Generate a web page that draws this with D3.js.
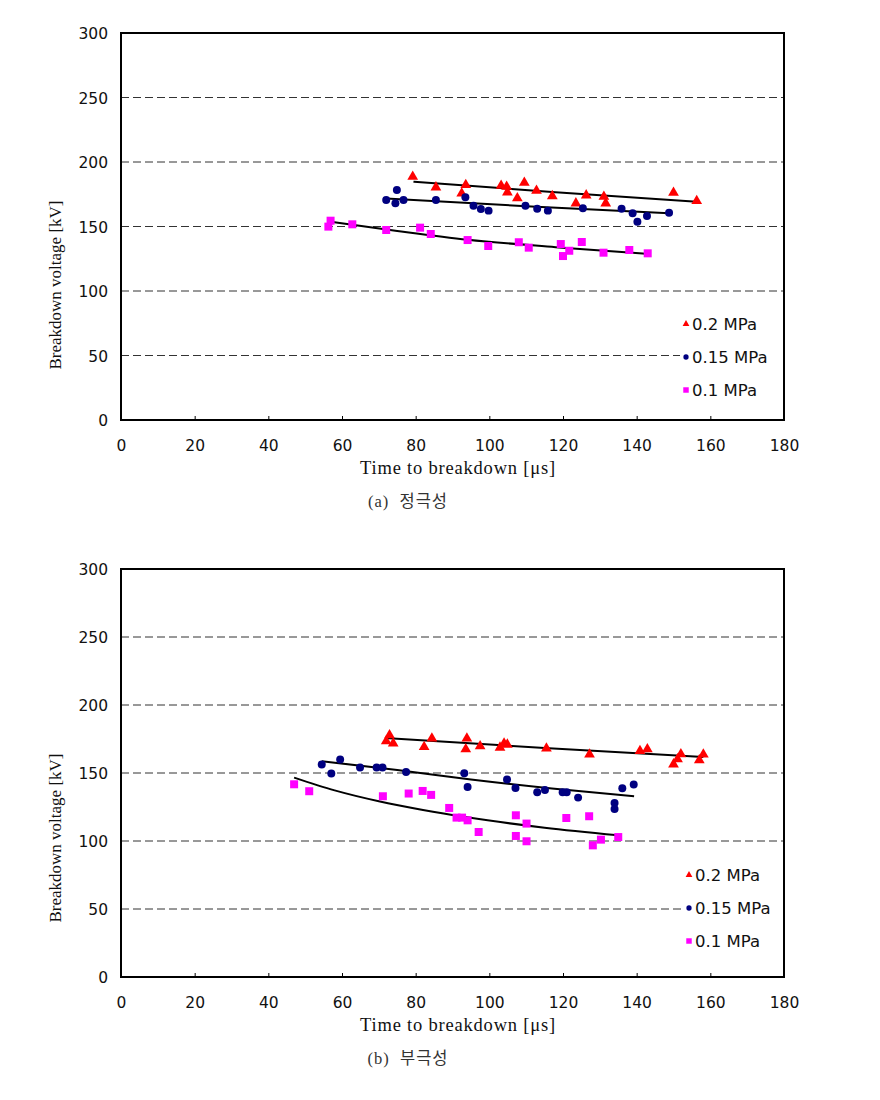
<!DOCTYPE html>
<html><head><meta charset="utf-8">
<script src="https://cdn.jsdelivr.net/npm/d3@7"></script>
<style>body{margin:0;background:#fff}svg{display:block}</style>
</head><body>
<svg id="chart" width="880" height="1100"></svg>
<script>
// ---------- data ----------
const xTicks = [0, 20, 40, 60, 80, 100, 120, 140, 160, 180];
const yTicks = [0, 50, 100, 150, 200, 250, 300];
const gridTicks = [50, 100, 150, 200, 250];
const seriesNames = ["0.2 MPa", "0.15 MPa", "0.1 MPa"];
const xLabel = "Time to breakdown [\u03BCs]";
const yLabel = "Breakdown voltage [kV]";
const captions = ["(a)  정극성", "(b)  부극성"];

// (a) positive polarity
const aRed = [[79.2,188.6],[85.5,180.4],[93.6,182.2],[92.5,175.7],[103.2,181.6],[104.7,180.9],[104.9,176.5],[109.5,184],[107.6,171.9],[112.8,177.8],[117.1,173.6],[123.5,168],[126.3,174.2],[131.1,173.1],[131.6,168],[150,176.2],[156.3,169.8]];
const aBlue = [[74.9,178.3],[72,170.5],[74.5,168],[76.7,170.5],[85.5,170.5],[93.5,172.6],[95.7,166.1],[97.7,163.6],[99.8,162.3],[109.8,166.1],[113,163.8],[115.9,162.3],[125.4,164.1],[135.9,163.8],[138.9,160.2],[140.2,153.7],[142.8,158.1],[148.8,160.7]];
const aMag = [[56.9,154.5],[56.3,149.9],[62.8,151.7],[72,147.3],[81.2,149.1],[84.1,144.2],[94.1,139.5],[99.7,134.9],[108,137.8],[110.7,133.6],[119.4,136.4],[120,127.1],[121.7,131.2],[125.1,138],[131,129.7],[138,131.8],[143,129.2]];
const aRedTrend = [[79.4,184.7],[118,176.6],[156.3,169.2]];
const aBlueTrend = [[72,171.8],[110,165.7],[148.8,160.2]];
const aMagTrend = [[56.9,153.7],[75,146.6],[94.1,139.8],[118,134],[143,128.7]];

// (b) negative polarity
const bRed = [[72.9,177.8],[72,173.4],[73.9,171.7],[84.4,175.4],[82.3,169.2],[93.9,175.4],[93.6,167.5],[97.5,169.7],[102.9,168.7],[104,171.7],[104.9,170.9],[115.5,168],[127.2,163.6],[140.9,166.2],[142.9,167.5],[150,156.4],[151.1,160.1],[152,163.8],[157,159.4],[158.1,163.6]];
const bBlue = [[54.5,156.2],[57.1,149.6],[59.5,159.9],[64.9,154],[69.4,154],[71,154],[77.4,150.8],[93.2,149.8],[94.1,139.7],[104.8,145.2],[107.1,139],[113,135.8],[115.1,137.5],[119.9,135.8],[121,135.8],[124.1,131.9],[134,128],[134,123.5],[136.1,138.8],[139.2,141.5]];
const bMag = [[47,141.7],[51.1,136.6],[71.1,132.9],[78.1,134.9],[81.9,136.8],[84.2,133.9],[89.1,124.3],[91.1,117.2],[92.6,117.2],[94.1,115.2],[97.1,106.6],[107.2,118.9],[110.1,112.8],[107.2,103.7],[110.1,99.8],[120.9,116.9],[127.1,118.2],[128.1,96.8],[130.3,101],[135,102.9]];
const bRedTrend = [[71.7,175.8],[115,168.4],[158.1,161.8]];
const bBlueTrend = [[54.5,158.7],[75,152.2],[95,145.2],[117,138.6],[139.3,132.9]];
const bMagTrend = [[47,146.6],[58,137.2],[70,129.2],[82,122.8],[94,117.4],[115,109.8],[135,104.2]];

// ---------- drawing ----------
const svg = d3.select("#chart");
svg.append("rect").attr("width", 880).attr("height", 1100).attr("fill", "#fff");

const colors = ["#ff0000", "#000080", "#ff00ff"];
const sym = [d3.symbolTriangle, d3.symbolCircle, d3.symbolSquare];
const symSize = [50, 50, 64];
const legSize = [20, 22, 30];

function panel(p) {
  const g = svg.append("g");
  const x = d3.scaleLinear().domain([0, 180]).range([p.left, p.right]);
  const y = d3.scaleLinear().domain([0, 300]).range([p.bottom, p.top]);

  // grid
  g.selectAll(".grid").data(gridTicks).join("line")
    .attr("x1", p.left).attr("x2", p.right)
    .attr("y1", d => y(d)).attr("y2", d => y(d))
    .attr("stroke", "#333").attr("stroke-width", 1).attr("stroke-dasharray", "8,4");

  // x axis (inner ticks)
  const xa = g.append("g").attr("transform", `translate(0,${p.bottom})`)
    .call(d3.axisBottom(x).tickValues(xTicks).tickSize(-4).tickSizeOuter(0).tickFormat(d3.format("d")));
  xa.select(".domain").remove();
  xa.selectAll("line").attr("stroke", "#000");
  xa.selectAll("text").attr("dy", 0).attr("y", 31)
    .attr("font-family", "'DejaVu Sans', sans-serif").attr("font-size", "15.5px").attr("fill", "#111");

  // y axis
  const ya = g.append("g").attr("transform", `translate(${p.left},0)`)
    .call(d3.axisLeft(y).tickValues(yTicks).tickSize(0).tickSizeOuter(0).tickFormat(d3.format("d")));
  ya.select(".domain").remove();
  ya.selectAll("text").attr("x", -13).attr("dy", "0.36em")
    .attr("font-family", "'DejaVu Sans', sans-serif").attr("font-size", "15.5px").attr("fill", "#111");

  // trend lines
  const line = d3.line().x(d => x(d[0])).y(d => y(d[1])).curve(d3.curveMonotoneX);
  p.trends.forEach(t => {
    g.append("path").attr("d", line(t)).attr("fill", "none")
      .attr("stroke", "#000").attr("stroke-width", 2);
  });

  // points
  p.series.forEach((s, i) => {
    g.append("g").selectAll("path").data(s).join("path")
      .attr("transform", d => `translate(${x(d[0])},${y(d[1])})`)
      .attr("d", d3.symbol().type(sym[i]).size(symSize[i]))
      .attr("fill", colors[i]);
  });

  // legend (white box hides grid)
  g.append("rect").attr("x", p.legX - 6).attr("y", p.legY - 16)
    .attr("width", p.right - p.legX + 5).attr("height", 96).attr("fill", "#fff");
  seriesNames.forEach((n, i) => {
    const ly = p.legY + i * 33;
    g.append("path").attr("transform", `translate(${p.legX},${ly})`)
      .attr("d", d3.symbol().type(sym[i]).size(legSize[i])).attr("fill", colors[i]);
    g.append("text").attr("x", p.legX + 6).attr("y", ly).attr("dy", "0.36em")
      .attr("font-family", "'DejaVu Sans', sans-serif").attr("font-size", "16.5px")
      .attr("fill", "#111").text(n);
  });

  // frame
  g.append("rect").attr("x", p.left).attr("y", p.top)
    .attr("width", p.right - p.left).attr("height", p.bottom - p.top)
    .attr("fill", "none").attr("stroke", "#000").attr("stroke-width", 2);

  // axis titles
  g.append("text").attr("transform", `translate(55,${p.yLabelY}) rotate(-90)`)
    .attr("text-anchor", "middle").attr("dy", "0.35em")
    .attr("font-family", "'Liberation Serif', serif").attr("font-size", "17px")
    .attr("fill", "#111").text(yLabel);
  g.append("text").attr("x", p.xLabelX).attr("y", p.bottom + 54)
    .attr("text-anchor", "middle").attr("letter-spacing", "0.8px")
    .attr("font-family", "'Liberation Serif', serif").attr("font-size", "18.5px")
    .attr("fill", "#111").text(xLabel);
  g.append("text").attr("x", 408).attr("y", p.bottom + 87)
    .attr("text-anchor", "middle").attr("letter-spacing", "1px")
    .attr("font-family", "'Liberation Serif', 'Noto Sans CJK KR', serif").attr("font-size", "16.5px")
    .attr("fill", "#333").style("white-space", "pre").text(p.caption);
}

panel({top: 33, bottom: 420, left: 121, right: 784,
  series: [aRed, aBlue, aMag], trends: [aRedTrend, aBlueTrend, aMagTrend],
  legX: 686, legY: 324, yLabelY: 285, xLabelX: 458, caption: captions[0]});
panel({top: 569, bottom: 977, left: 121, right: 784,
  series: [bRed, bBlue, bMag], trends: [bRedTrend, bBlueTrend, bMagTrend],
  legX: 689, legY: 875, yLabelY: 838, xLabelX: 458, caption: captions[1]});
</script>
</body></html>
